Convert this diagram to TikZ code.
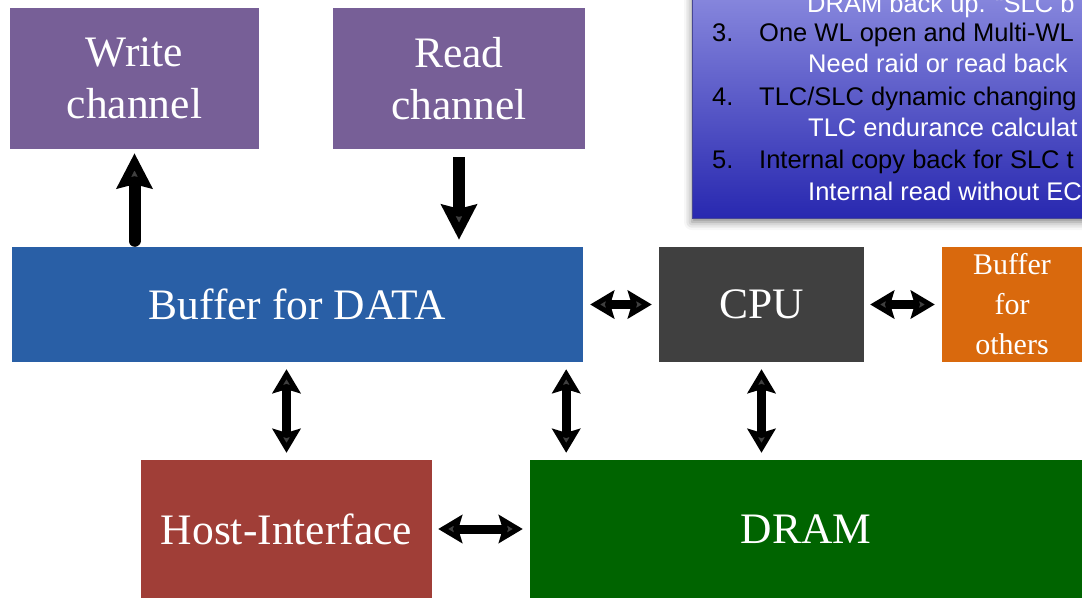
\documentclass[tikz,border=0pt]{standalone}
\usepackage{fontspec}
\setmainfont{Liberation Serif}
\newfontfamily\arialf{Liberation Sans}
\usetikzlibrary{arrows.meta,shadows.blur,calc}
\definecolor{purp}{RGB}{119,95,151}
\definecolor{bufblue}{RGB}{41,95,166}
\definecolor{cpugray}{RGB}{64,64,64}
\definecolor{orng}{RGB}{217,105,13}
\definecolor{hostred}{RGB}{160,62,55}
\definecolor{dramgreen}{RGB}{0,100,0}
\definecolor{notetop}{RGB}{150,150,228}
\definecolor{notebot}{RGB}{40,40,176}
\definecolor{noteedge}{RGB}{70,70,150}
\begin{document}
\begin{tikzpicture}[x=1pt,y=-1pt,
  box/.style={inner sep=0pt, text=white, align=center, font=\fontsize{43.5}{52}\selectfont},
  dbl/.style={line width=9pt, {Stealth[width=28pt,length=24pt,inset=4pt]}-{Stealth[width=28pt,length=24pt,inset=4pt]}},
  uparrow/.style={line width=12pt, line cap=round, -{Stealth[width=35pt,length=35pt,inset=4pt]}},
  downarrow/.style={line width=12pt, -{Stealth[width=35pt,length=35pt,inset=4pt]}},
  numtxt/.style={anchor=base west, inner sep=0pt, text=black, font=\arialf\fontsize{25.5}{30}\selectfont},
  subtxt/.style={anchor=base west, inner sep=0pt, text=white, font=\arialf\fontsize{25.5}{30}\selectfont}]
\useasboundingbox (0,0) rectangle (1082,598);
\clip (0,0) rectangle (1082,598);

% note box
\path[draw=noteedge, line width=1pt, top color=notetop, bottom color=notebot,
  blur shadow={shadow xshift=0pt, shadow yshift=-4pt, shadow blur radius=8pt, shadow opacity=50}]
  (692,-40) rectangle (1110,218);
\node[subtxt] (d0) at (807,12) {DRAM back up.  “SLC b};
\node[numtxt] (n3) at (712,41) {3.};
\node[numtxt] (t3) at (759,41) {One WL open and Multi-WL};
\node[subtxt] (s3) at (808,72) {Need raid or read back};
\node[numtxt] (n4) at (712,105) {4.};
\node[numtxt] (t4) at (759,105) {TLC/SLC dynamic changing};
\node[subtxt] (s4) at (808,136) {TLC endurance calculat};
\node[numtxt] (n5) at (712,168) {5.};
\node[numtxt] (t5) at (759,168) {Internal copy back for SLC t};
\node[subtxt] (s5) at (808,200) {Internal read without EC};

% boxes
\node[box, fill=purp, minimum width=249pt, minimum height=141pt] (write) at (134.5,78.5) {Write\\channel};
\node[box, fill=purp, minimum width=252pt, minimum height=141pt] (read) at (459,78.5) {Read\\channel};
\node[box, fill=bufblue, minimum width=571pt, minimum height=115pt] (buf) at (297.5,304.5) {Buffer for DATA};
\node[box, fill=cpugray, minimum width=205pt, minimum height=115pt] (cpu) at (761.5,304.5) {CPU};
\node[box, fill=orng, minimum width=140pt, minimum height=115pt, font=\fontsize{30}{40}\selectfont] (others) at (1012,304.5) {Buffer\\for\\others};
\node[box, fill=hostred, minimum width=291pt, minimum height=138pt] (host) at (286.5,529) {Host-Interface};
\node[box, fill=dramgreen, minimum width=552pt, minimum height=138pt] (dram) at (806,529) {DRAM};

% arrows
\draw[uparrow] ([yshift=6pt]write.south |- buf.north) -- ([yshift=-4pt]write.south);
\draw[downarrow] ([yshift=-8pt]read.south) -- ([yshift=7pt]read.south |- buf.north);
\draw[dbl] ([xshift=7pt]buf.east) -- ([xshift=-7pt]cpu.west);
\draw[dbl] ([xshift=6pt]cpu.east) -- ([xshift=-7pt]others.west);
\draw[dbl] ([yshift=-7pt]buf.south -| host.north) -- ([yshift=7pt]host.north);
\coordinate (bs) at ([xshift=-17pt]buf.south east);
\draw[dbl] ([yshift=-7pt]bs) -- ([yshift=7pt]bs |- dram.north);
\draw[dbl] ([yshift=-7pt]cpu.south) -- ([yshift=7pt]cpu.south |- dram.north);
\draw[dbl] ([xshift=6pt]host.east) -- ([xshift=-7pt]host.east -| dram.west);
\end{tikzpicture}
\end{document}
